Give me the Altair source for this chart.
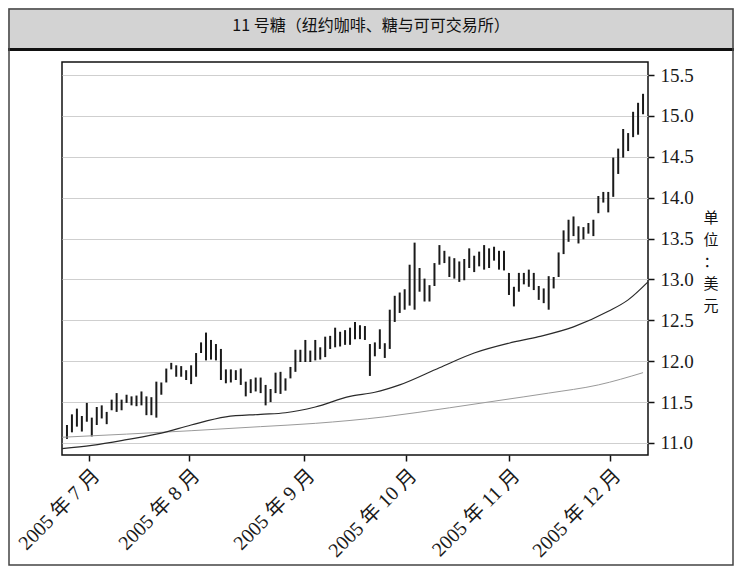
import altair as alt
import pandas as pd

# ---- data (daily high/low bars, trading-day index) ----
highs = [11.22, 11.35, 11.42, 11.33, 11.49, 11.31, 11.44, 11.46, 11.38, 11.53,
         11.61, 11.53, 11.59, 11.57, 11.58, 11.63, 11.57, 11.56, 11.75, 11.74,
         11.91, 11.98, 11.95, 11.94, 11.89, 11.95, 12.10, 12.23, 12.35, 12.26,
         12.21, 12.15, 11.90, 11.90, 11.89, 11.91, 11.75, 11.78, 11.80, 11.80,
         11.71, 11.66, 11.86, 11.87, 11.79, 11.93, 12.14, 12.14, 12.26, 12.13,
         12.26, 12.17, 12.30, 12.31, 12.41, 12.36, 12.38, 12.41, 12.48, 12.44,
         12.43, 12.21, 12.23, 12.39, 12.22, 12.63, 12.80, 12.84, 12.88, 13.18,
         13.45, 13.14, 13.01, 12.93, 13.20, 13.42, 13.35, 13.28, 13.26, 13.22,
         13.25, 13.38, 13.29, 13.34, 13.42, 13.38, 13.40, 13.35, 13.35, 13.08,
         12.91, 13.08, 13.08, 13.12, 13.08, 12.92, 12.89, 13.04, 13.03, 13.33,
         13.60, 13.73, 13.77, 13.65, 13.64, 13.69, 13.73, 14.02, 14.07, 14.07,
         14.49, 14.60, 14.84, 14.79, 15.05, 15.16, 15.27]
lows = [11.05, 11.13, 11.20, 11.14, 11.26, 11.08, 11.22, 11.30, 11.23, 11.40,
        11.38, 11.40, 11.49, 11.46, 11.45, 11.46, 11.34, 11.34, 11.31, 11.59,
        11.74, 11.90, 11.81, 11.81, 11.77, 11.72, 11.81, 12.10, 12.01, 12.02,
        12.01, 11.77, 11.73, 11.74, 11.77, 11.71, 11.57, 11.61, 11.63, 11.61,
        11.46, 11.50, 11.61, 11.60, 11.64, 11.79, 11.87, 11.99, 11.99, 11.99,
        12.01, 12.02, 12.05, 12.15, 12.17, 12.18, 12.20, 12.20, 12.27, 12.27,
        12.26, 11.82, 12.06, 12.15, 12.04, 12.15, 12.48, 12.59, 12.63, 12.68,
        12.63, 12.85, 12.73, 12.73, 12.92, 13.18, 13.20, 13.03, 13.01, 12.97,
        12.99, 13.14, 13.09, 13.16, 13.12, 13.14, 13.23, 13.12, 13.11, 12.81,
        12.67, 12.85, 12.94, 12.91, 12.87, 12.75, 12.71, 12.63, 12.89, 13.03,
        13.31, 13.46, 13.53, 13.44, 13.49, 13.56, 13.53, 13.81, 13.94, 13.82,
        14.01, 14.29, 14.49, 14.57, 14.74, 14.77, 15.02]
day_index = list(range(1, len(highs) + 1))

fast_ma_idx = [0, 6, 13, 20, 26, 33, 40, 45, 51, 58, 63, 68, 76, 83, 90, 96, 103, 110, 114, 118]
fast_ma_val = [10.93, 10.97, 11.04, 11.12, 11.22, 11.32, 11.35, 11.37, 11.44, 11.57,
               11.62, 11.71, 11.92, 12.10, 12.22, 12.30, 12.42, 12.61, 12.75, 12.97]
slow_ma_idx = [0, 26, 40, 51, 65, 78, 88, 98, 108, 117]
slow_ma_val = [11.07, 11.15, 11.20, 11.24, 11.32, 11.43, 11.52, 11.61, 11.71, 11.86]

tick_pos = [5.44, 25.57, 48.73, 69.27, 90.01, 110.35]
tick_labels = ["2005 年 7 月", "2005 年 8 月", "2005 年 9 月",
               "2005 年 10 月", "2005 年 11 月", "2005 年 12 月"]
y_ticks = [11.0, 11.5, 12.0, 12.5, 13.0, 13.5, 14.0, 14.5, 15.0, 15.5]

title_text = "11 号糖（纽约咖啡、糖与可可交易所）"
unit_chars = ["单", "位", "：", "美", "元"]

bars_df = pd.DataFrame({"idx": day_index, "high": highs, "low": lows})
fast_df = pd.DataFrame({"idx": fast_ma_idx, "low": fast_ma_val})
slow_df = pd.DataFrame({"idx": slow_ma_idx, "low": slow_ma_val})
one = pd.DataFrame({"k": [0]})

SERIF = "Liberation Serif, Noto Sans CJK SC"
SANS = "Noto Sans CJK SC"

x_scale = alt.Scale(domain=[0, 118], nice=False, zero=False)
y_scale = alt.Scale(domain=[10.853, 15.659], nice=False, zero=False)

label_expr = ("[" + ",".join("'%s'" % t for t in tick_labels) + "][indexof(["
              + ",".join(str(p) for p in tick_pos) + "], datum.value)]")

x_axis = alt.Axis(values=tick_pos, labelExpr=label_expr, labelAngle=-45,
                  labelFont=SERIF, labelFontSize=20, labelColor="#1a1a1a",
                  tickSize=6, tickColor="#111", tickWidth=1.5,
                  domain=False, grid=False, title=None,
                  labelPadding=4, labelOverlap=False, labelFlush=False)
y_axis = alt.Axis(orient="right", values=y_ticks, format=".1f",
                  labelFont=SERIF, labelFontSize=19, labelColor="#1a1a1a",
                  tickSize=6, tickColor="#111", tickWidth=1.5,
                  domain=False, grid=True, gridColor="#cfcfcf", gridWidth=1,
                  title=None, labelPadding=6)

bars = alt.Chart(bars_df).mark_rule(color="#1a1a1a", strokeWidth=2).encode(
    x=alt.X("idx:Q", scale=x_scale, axis=x_axis, title=None),
    y=alt.Y("low:Q", scale=y_scale, axis=y_axis, title=None),
    y2="high:Q",
)

fast = alt.Chart(fast_df).mark_line(color="#2a2a2a", strokeWidth=1.2, interpolate="monotone").encode(
    x=alt.X("idx:Q", scale=x_scale, axis=x_axis, title=None),
    y=alt.Y("low:Q", scale=y_scale, axis=y_axis, title=None),
)
slow = alt.Chart(slow_df).mark_line(color="#9a9a9a", strokeWidth=1, interpolate="monotone").encode(
    x=alt.X("idx:Q", scale=x_scale, axis=x_axis, title=None),
    y=alt.Y("low:Q", scale=y_scale, axis=y_axis, title=None),
)

band = alt.Chart(one).mark_rect(color="#d3d3d3").encode(
    x=alt.value(-54), x2=alt.value(672), y=alt.value(-54), y2=alt.value(-13))
band_line = alt.Chart(one).mark_rect(color="#111111").encode(
    x=alt.value(-54), x2=alt.value(672), y=alt.value(-14), y2=alt.value(-11))
border = alt.Chart(one).mark_rect(fillOpacity=0, stroke="#444444", strokeWidth=1.5).encode(
    x=alt.value(-53), x2=alt.value(671), y=alt.value(-53), y2=alt.value(503))

title = alt.Chart(one).mark_text(font=SANS, fontSize=16, color="#111", baseline="middle",
                                 align="center").encode(
    x=alt.value(309), y=alt.value(-36), text=alt.value(title_text))

unit_layers = [
    alt.Chart(one).mark_text(font=SANS, fontSize=15, color="#111", baseline="middle",
                             align="center").encode(
        x=alt.value(649), y=alt.value(156 + 22 * i), text=alt.value(ch))
    for i, ch in enumerate(unit_chars)
]

chart = alt.layer(bars, slow, fast, band, band_line, border, title, *unit_layers).properties(
    width=586, height=393,
    autosize=alt.AutoSizeParams(type="none"),
    padding={"left": 54, "top": 54, "right": 86, "bottom": 111},
).configure_view(stroke="#111111", strokeWidth=1.5)

chart.save("out.html", embed_options={"renderer": "svg", "actions": False})
